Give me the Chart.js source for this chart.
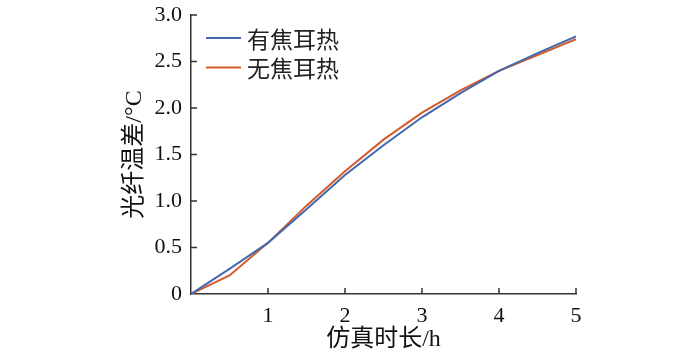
<!DOCTYPE html>
<html>
<head>
<meta charset="utf-8">
<script src="https://cdn.jsdelivr.net/npm/chart.js@4/dist/chart.umd.min.js"></script>
<style>
html,body{margin:0;padding:0;background:#fff;}
#wrap{width:700px;height:354px;position:relative;}
</style>
</head>
<body>
<div id="wrap"><canvas id="c" width="700" height="354"></canvas></div>
<script>
const hours = [0, 0.5, 1, 1.5, 2, 2.5, 3, 3.5, 4, 4.5, 5];
const withJoule = [0, 0.27, 0.55, 0.91, 1.28, 1.6, 1.9, 2.16, 2.4, 2.59, 2.77];
const withoutJoule = [0, 0.20, 0.55, 0.95, 1.32, 1.66, 1.95, 2.19, 2.4, 2.57, 2.74];
const seriesNames = ['有焦耳热', '无焦耳热'];
const xTicks = [1, 2, 3, 4, 5];
const yTickLabels = ['0', '0.5', '1.0', '1.5', '2.0', '2.5', '3.0'];
const xTitle = '仿真时长/h';
const yTitle = '光纤温差/°C';

const FONT = "'Liberation Serif', 'Noto Sans CJK SC', serif";
const AXIS = '#333333';

const inwardTicks = {
  id: 'inwardTicks',
  afterDraw(chart) {
    const ctx = chart.ctx, x = chart.scales.x, y = chart.scales.y;
    ctx.save();
    ctx.strokeStyle = AXIS;
    ctx.lineWidth = 1.5;
    ctx.beginPath();
    x.ticks.forEach(t => {
      if (t.value === 0) return;
      const px = x.getPixelForValue(t.value);
      ctx.moveTo(px, x.top); ctx.lineTo(px, x.top - 6);
    });
    y.ticks.forEach(t => {
      if (t.value === 0) return;
      const py = y.getPixelForValue(t.value);
      ctx.moveTo(y.right, py); ctx.lineTo(y.right + 6, py);
    });
    ctx.stroke();
    ctx.restore();
  }
};

const customLegend = {
  id: 'customLegend',
  afterDraw(chart) {
    const ctx = chart.ctx;
    ctx.save();
    ctx.font = "23px 'Noto Sans CJK SC', sans-serif";
    ctx.textBaseline = 'middle';
    chart.data.datasets.forEach((ds, i) => {
      const yy = 38 + i * 29.5;
      ctx.strokeStyle = ds.borderColor;
      ctx.lineWidth = 2;
      ctx.beginPath();
      ctx.moveTo(206, yy); ctx.lineTo(241, yy);
      ctx.stroke();
      ctx.fillStyle = '#222';
      ctx.fillText(ds.label, 247, yy + 1);
    });
    ctx.restore();
  }
};

new Chart(document.getElementById('c'), {
  type: 'line',
  data: {
    datasets: [
      { label: seriesNames[0], data: hours.map((h, i) => ({x: h, y: withJoule[i]})),
        borderColor: '#4468ad', borderWidth: 2, pointRadius: 0, tension: 0, fill: false },
      { label: seriesNames[1], data: hours.map((h, i) => ({x: h, y: withoutJoule[i]})),
        borderColor: '#d55a2b', borderWidth: 2, pointRadius: 0, tension: 0, fill: false }
    ]
  },
  options: {
    responsive: false,
    animation: false,
    devicePixelRatio: 1,
    layout: { padding: { left: 120, right: 124, top: 15, bottom: 0 } },
    plugins: { legend: { display: false }, tooltip: { enabled: false } },
    scales: {
      x: {
        type: 'linear', min: 0, max: 5,
        afterBuildTicks(s) { s.ticks = [0].concat(xTicks).map(v => ({value: v})); },
        afterFit(s) { s.height = 60; s.paddingLeft = 0; s.paddingRight = 0; },
        ticks: {
          padding: 9, color: '#111',
          font: { family: FONT, size: 22 },
          callback: v => (v === 0 ? '' : String(v))
        },
        grid: { display: true, drawOnChartArea: false, drawTicks: false },
        border: { display: true, color: AXIS, width: 1.5 },
        title: { display: true, text: xTitle, color: '#111', font: { family: FONT, size: 24 }, padding: { top: 0, bottom: 0 } }
      },
      y: {
        type: 'linear', min: 0, max: 3,
        afterBuildTicks(s) { s.ticks = yTickLabels.map(l => ({value: parseFloat(l)})); },
        afterFit(s) { s.width = 71; s.paddingTop = 0; s.paddingBottom = 0; },
        ticks: {
          padding: 9, color: '#111',
          font: { family: FONT, size: 22 },
          callback: v => yTickLabels[Math.round(v * 2)]
        },
        grid: { display: true, drawOnChartArea: false, drawTicks: false },
        border: { display: true, color: AXIS, width: 1.5 },
        title: { display: true, text: yTitle, color: '#111', font: { family: FONT, size: 24 }, padding: { top: 0, bottom: 0 } }
      }
    }
  },
  plugins: [inwardTicks, customLegend]
});
</script>
</body>
</html>
